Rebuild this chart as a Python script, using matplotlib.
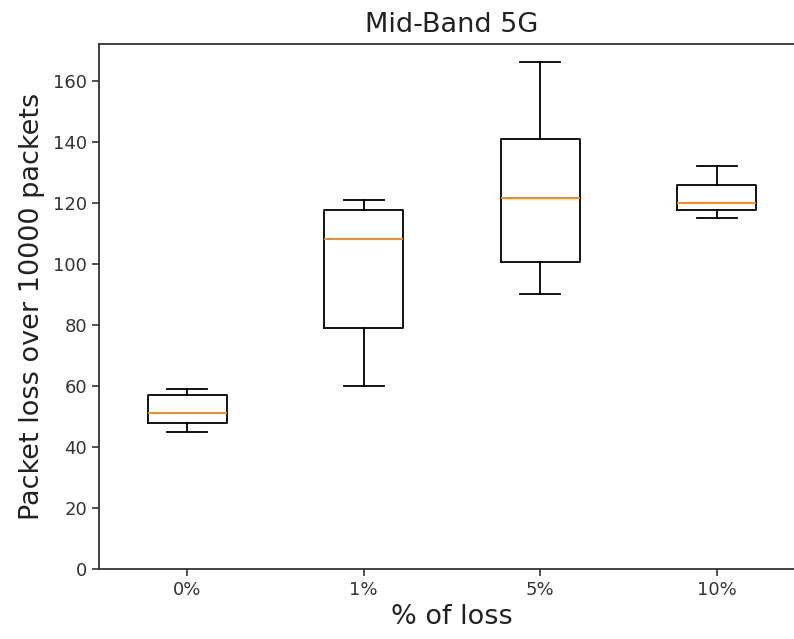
import matplotlib
matplotlib.use("Agg")
import matplotlib.pyplot as plt

# values
labels = ["0%", "1%", "5%", "10%"]
whislo = [45, 60, 90, 115]
q1 = [48, 79, 100.5, 117.5]
med = [51, 108, 121.5, 120]
q3 = [57, 117.5, 141, 126]
whishi = [59, 121, 166, 132]

stats = []
for i in range(len(labels)):
    stats.append({"label": labels[i], "whislo": whislo[i], "q1": q1[i],
                  "med": med[i], "q3": q3[i], "whishi": whishi[i], "fliers": []})

fig = plt.figure(figsize=(7.94, 6.39), dpi=100)
# the reference is cut off on the right, the axes runs past the edge
ax = fig.add_axes([99 / 794, 70 / 639, 706 / 794, 525 / 639])
lw = 1.3
ax.bxp(stats, widths=0.45,
       boxprops=dict(linewidth=lw), whiskerprops=dict(linewidth=lw),
       capprops=dict(linewidth=lw), medianprops=dict(linewidth=lw, color="#ff7f0e"))
ax.set_ylim(bottom=0)
for s in ax.spines.values():
    s.set_linewidth(1.3)
    s.set_color("#333333")
ax.set_title("Mid-Band 5G", fontsize=19.5, color="#222222", pad=9)
ax.set_xlabel("% of loss", fontsize=19.5, color="#222222")
ax.set_ylabel("Packet loss over 10000 packets", fontsize=19.5, color="#222222", labelpad=6)
ax.tick_params(labelsize=13, length=5, width=1.2, colors="#333333")
fig.savefig("out.png", dpi=100)
